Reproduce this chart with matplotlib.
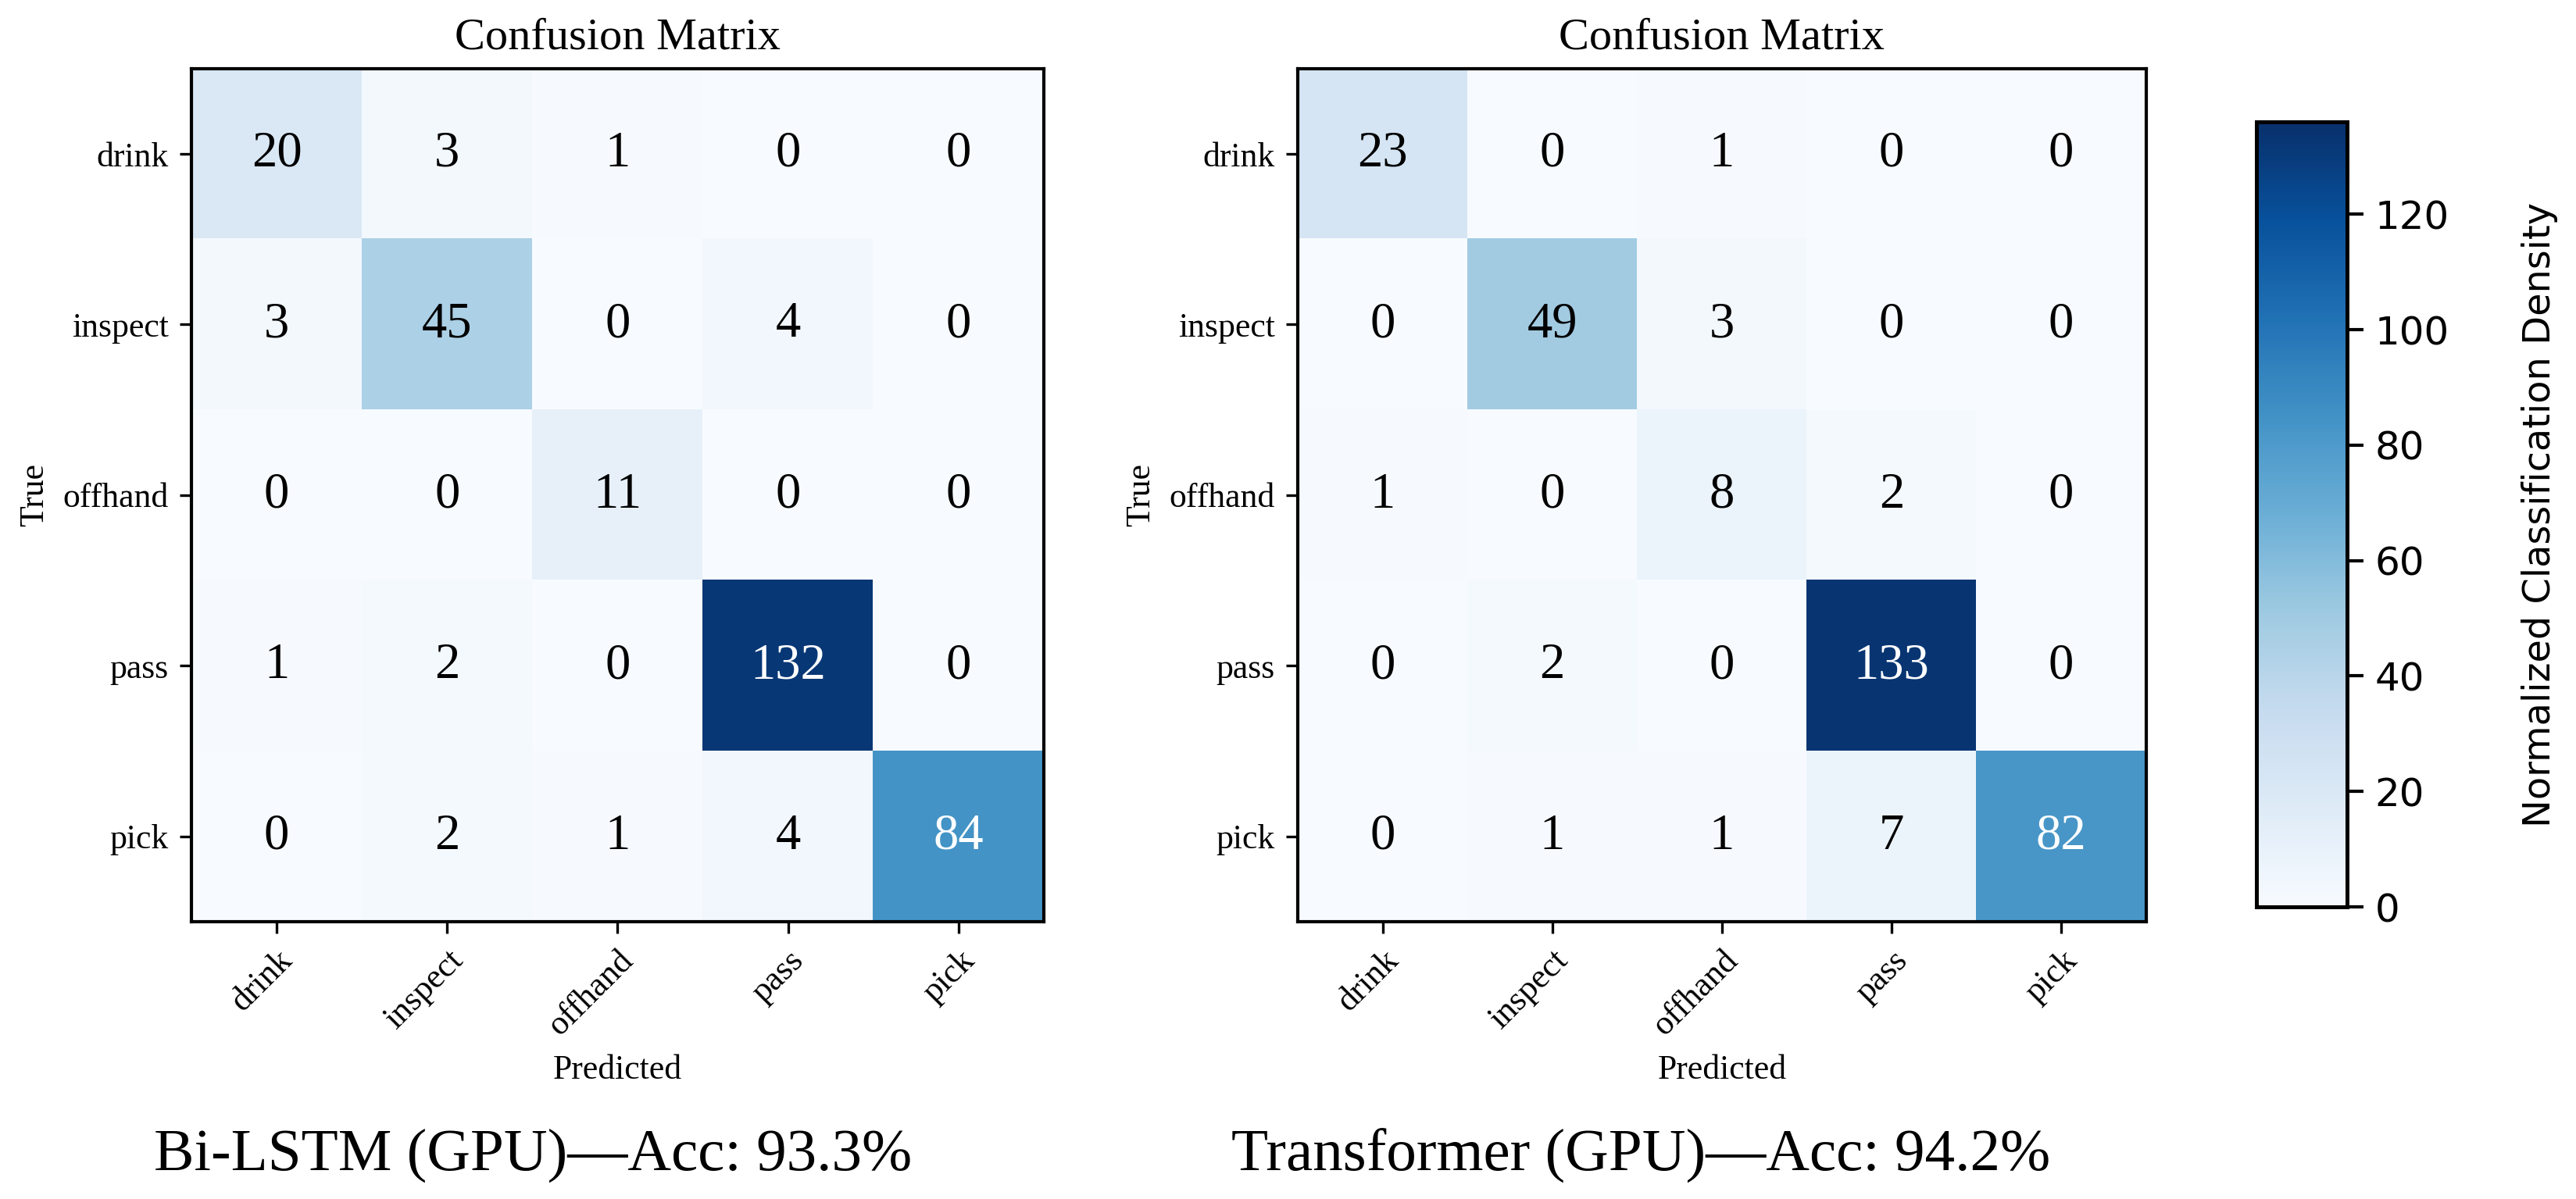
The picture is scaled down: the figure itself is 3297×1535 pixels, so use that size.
import numpy as np
import matplotlib
matplotlib.use('Agg')
import matplotlib.pyplot as plt

labels = ['drink', 'inspect', 'offhand', 'pass', 'pick']
lstm_cm = [[20, 3, 1, 0, 0],
           [3, 45, 0, 4, 0],
           [0, 0, 11, 0, 0],
           [1, 2, 0, 132, 0],
           [0, 2, 1, 4, 84]]
trans_cm = [[23, 0, 1, 0, 0],
            [0, 49, 3, 0, 0],
            [1, 0, 8, 2, 0],
            [0, 2, 0, 133, 0],
            [0, 1, 1, 7, 82]]
captions = ['Bi-LSTM (GPU)\u2014Acc: 93.3%', 'Transformer (GPU)\u2014Acc: 94.2%']
cbar_ticks = [0, 20, 40, 60, 80, 100, 120]
vmax = 136

serif = 'Liberation Serif'

fig = plt.figure(figsize=(10.99, 5.117), dpi=300)
axes = [fig.add_axes([0.0743, 0.2313, 0.3309, 0.7114]),
        fig.add_axes([0.5038, 0.2313, 0.3293, 0.7114])]


def draw_cm(ax, cm):
    cm = np.array(cm)
    im = ax.imshow(cm, cmap='Blues', vmin=0, vmax=vmax, aspect='auto')
    for i in range(cm.shape[0]):
        for j in range(cm.shape[1]):
            color = 'white' if cm[i, j] > vmax / 2 else 'black'
            ax.text(j, i, str(cm[i, j]), ha='center', va='center',
                    fontsize=15.5, color=color, family=serif)
    ax.set_xticks(range(len(labels)))
    ax.set_yticks(range(len(labels)))
    ax.set_xticklabels(labels, rotation=45, ha='right', rotation_mode='anchor',
                       fontsize=10.5, family=serif)
    ax.set_yticklabels(labels, fontsize=10.5, family=serif)
    ax.set_xlabel('Predicted', fontsize=10.5, family=serif)
    ax.set_ylabel('True', fontsize=10.5, family=serif)
    ax.set_title('Confusion Matrix', fontsize=14, family=serif)
    for s in ax.spines.values():
        s.set_linewidth(1.0)
    return im


im = None
for ax, cm in zip(axes, [lstm_cm, trans_cm]):
    im = draw_cm(ax, cm)

cax = fig.add_axes([0.876, 0.2436, 0.0352, 0.6547])
cbar = fig.colorbar(im, cax=cax, ticks=cbar_ticks)
cbar.ax.tick_params(labelsize=12, length=5, width=1)
cbar.outline.set_linewidth(1.2)
cbar.set_label('Normalized Classification Density', fontsize=11.5, labelpad=22)

fig.text(0.207, 0.036, captions[0], ha='center', va='center', fontsize=18.5, family=serif)
fig.text(0.637, 0.036, captions[1], ha='center', va='center', fontsize=18.5, family=serif)

fig.savefig('out.png', dpi=300)
